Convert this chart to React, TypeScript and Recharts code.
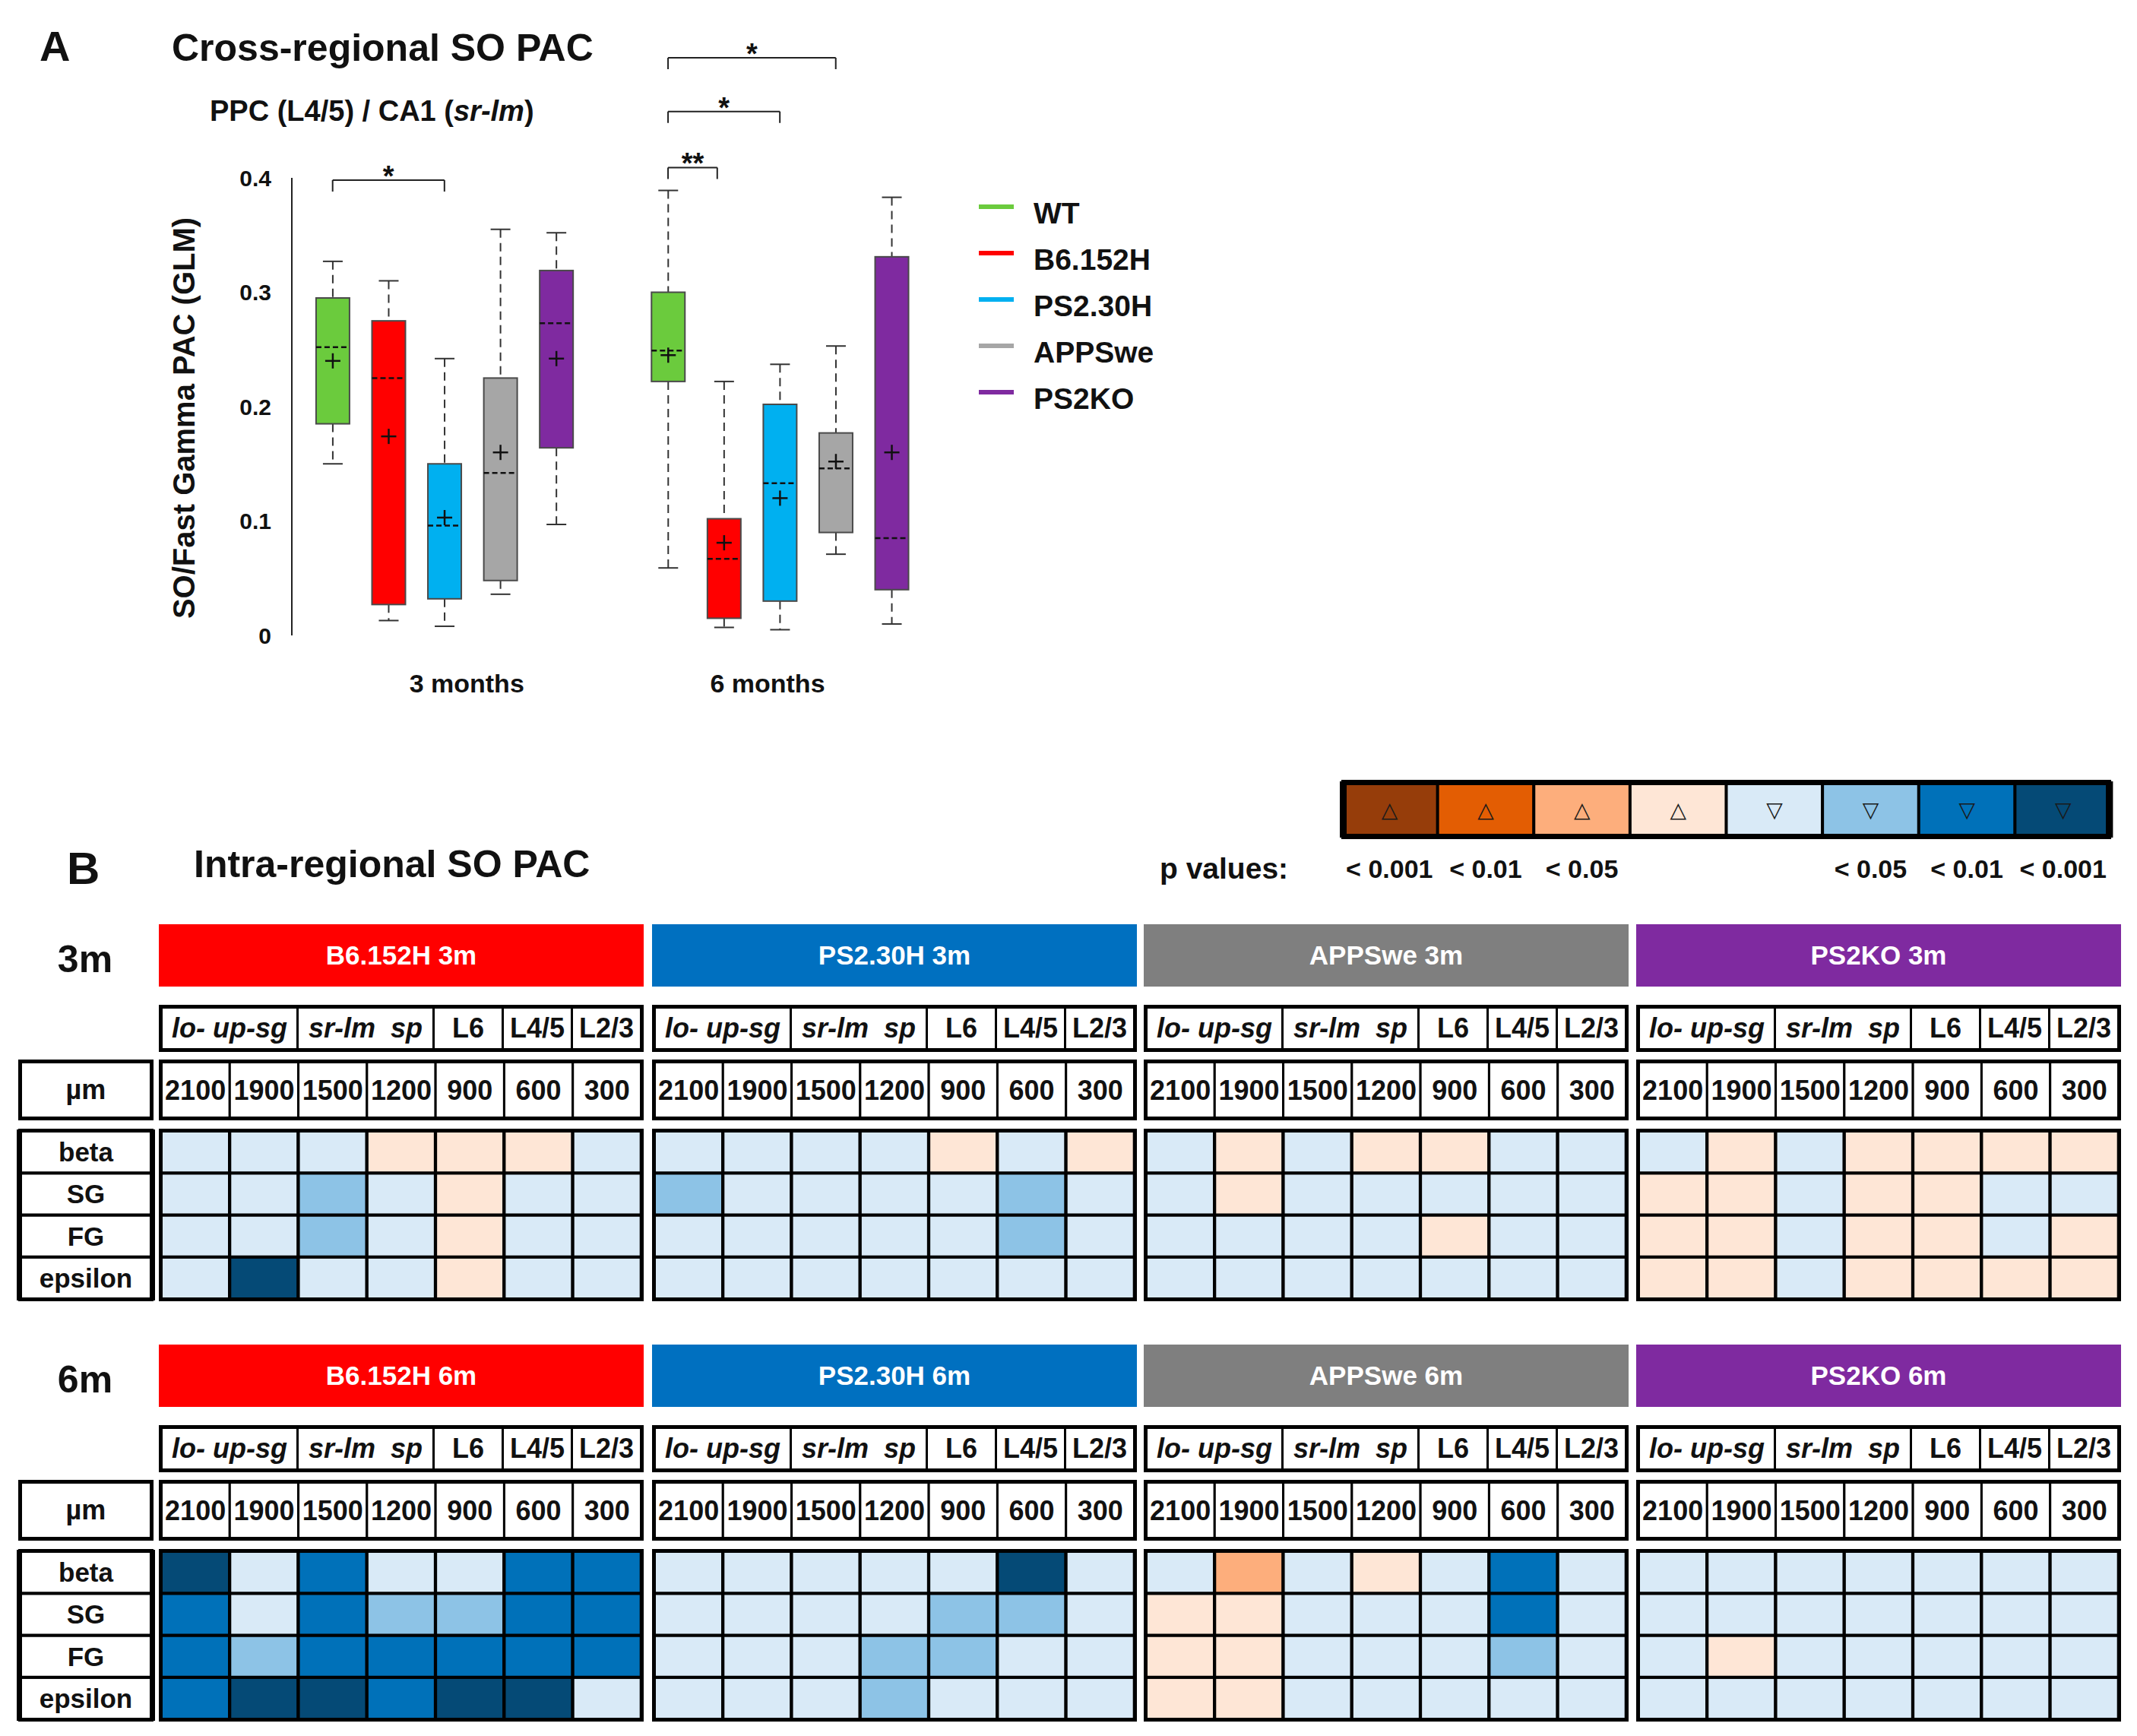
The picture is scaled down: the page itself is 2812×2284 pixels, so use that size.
import React from 'react'
import {
  ComposedChart,
  BarChart,
  Bar,
  Cell,
  XAxis,
  YAxis,
  ReferenceLine,
  ReferenceDot,
  Legend,
  LabelList,
} from 'recharts'

const FONT = '"Liberation Sans", Arial, Helvetica, sans-serif'
const INK = '#111'

// ---------- A: cross-regional SO / fast gamma PAC ----------
const GENOTYPES = ['WT', 'B6.152H', 'PS2.30H', 'APPSwe', 'PS2KO']
const GENO_COLORS = ['#6bcb3d', '#ff0000', '#00b0f0', '#a6a6a6', '#7f2aa0']
const AGE_NAMES = ['3 months', '6 months']
const AGE_TICKS = [3.4, 8.78]
const Y_TICKS = [0, 0.1, 0.2, 0.3, 0.4]

// x slot of each box: 1-5 = 3 months, 7-11 = 6 months
const BOX_SLOT = [1, 2, 3, 4, 5, 7, 8, 9, 10, 11]
const BOX_LO = [0.15, 0.013, 0.008, 0.036, 0.097, 0.059, 0.007, 0.005, 0.071, 0.01]
const BOX_Q1 = [0.185, 0.027, 0.032, 0.048, 0.164, 0.222, 0.015, 0.03, 0.09, 0.04]
const BOX_MED = [0.252, 0.225, 0.096, 0.142, 0.273, 0.249, 0.067, 0.133, 0.146, 0.085]
const BOX_MEAN = [0.24, 0.174, 0.103, 0.16, 0.242, 0.245, 0.081, 0.12, 0.152, 0.16]
const BOX_Q3 = [0.295, 0.275, 0.15, 0.225, 0.319, 0.3, 0.102, 0.202, 0.177, 0.331]
const BOX_HI = [0.327, 0.31, 0.242, 0.355, 0.352, 0.389, 0.222, 0.237, 0.253, 0.383]

// significance brackets
const SIG_FROM = [1, 7, 7, 7]
const SIG_TO = [3, 7.88, 9, 10]
const SIG_Y = [0.398, 0.409, 0.458, 0.505]
const SIG_TEXT = ['*', '**', '*', '*']

const boxRows = BOX_SLOT.map((slot, i) => ({
  slot,
  color: GENO_COLORS[i % GENOTYPES.length],
  lo: BOX_LO[i],
  q1: BOX_Q1[i],
  med: BOX_MED[i],
  mean: BOX_MEAN[i],
  q3: BOX_Q3[i],
  hi: BOX_HI[i],
}))

// ---------- B: intra-regional SO PAC ----------
const LINES = ['B6.152H', 'PS2.30H', 'APPSwe', 'PS2KO']
const LINE_COLORS = ['#ff0000', '#0070c0', '#7f7f7f', '#7f2aa0']
const AGES = ['3m', '6m']
const DEPTHS = ['2100', '1900', '1500', '1200', '900', '600', '300']
const LAYERS = ['lo- up-sg', 'sr-lm  sp', 'L6', 'L4/5', 'L2/3']
const LAYER_SPAN = [2, 2, 1, 1, 1]
const LAYER_ITALIC = [true, true, false, false, false]
const BANDS = ['beta', 'SG', 'FG', 'epsilon']

// +: increase, -: decrease; 1 = n.s., 2 = p<0.05, 3 = p<0.01, 4 = p<0.001
const SCALE_CODES = [4, 3, 2, 1, -1, -2, -3, -4]
const SCALE_COLORS = ['#963d0a', '#e35d03', '#fdae7c', '#fee6d6', '#d9eaf7', '#8dc3e6', '#0071b9', '#054a76']
const SCALE_LABELS = ['< 0.001', '< 0.01', '< 0.05', '', '', '< 0.05', '< 0.01', '< 0.001']

// rows: beta, SG, FG, epsilon / columns: 2100 ... 300 µm
const B6_3M = [
  [-1, -1, -1, 1, 1, 1, -1],
  [-1, -1, -2, -1, 1, -1, -1],
  [-1, -1, -2, -1, 1, -1, -1],
  [-1, -4, -1, -1, 1, -1, -1],
]
const PS2_3M = [
  [-1, -1, -1, -1, 1, -1, 1],
  [-2, -1, -1, -1, -1, -2, -1],
  [-1, -1, -1, -1, -1, -2, -1],
  [-1, -1, -1, -1, -1, -1, -1],
]
const APP_3M = [
  [-1, 1, -1, 1, 1, -1, -1],
  [-1, 1, -1, -1, -1, -1, -1],
  [-1, -1, -1, -1, 1, -1, -1],
  [-1, -1, -1, -1, -1, -1, -1],
]
const KO_3M = [
  [-1, 1, -1, 1, 1, 1, 1],
  [1, 1, -1, 1, 1, -1, -1],
  [1, 1, -1, 1, 1, -1, 1],
  [1, 1, -1, 1, 1, 1, 1],
]
const B6_6M = [
  [-4, -1, -3, -1, -1, -3, -3],
  [-3, -1, -3, -2, -2, -3, -3],
  [-3, -2, -3, -3, -3, -3, -3],
  [-3, -4, -4, -3, -4, -4, -1],
]
const PS2_6M = [
  [-1, -1, -1, -1, -1, -4, -1],
  [-1, -1, -1, -1, -2, -2, -1],
  [-1, -1, -1, -2, -2, -1, -1],
  [-1, -1, -1, -2, -1, -1, -1],
]
const APP_6M = [
  [-1, 2, -1, 1, -1, -3, -1],
  [1, 1, -1, -1, -1, -3, -1],
  [1, 1, -1, -1, -1, -2, -1],
  [1, 1, -1, -1, -1, -1, -1],
]
const KO_6M = [
  [-1, -1, -1, -1, -1, -1, -1],
  [-1, -1, -1, -1, -1, -1, -1],
  [-1, 1, -1, -1, -1, -1, -1],
  [-1, -1, -1, -1, -1, -1, -1],
]
const GRIDS = [
  [B6_3M, PS2_3M, APP_3M, KO_3M],
  [B6_6M, PS2_6M, APP_6M, KO_6M],
]

// layout
const GROUP_LEFT = [209, 858, 1505, 2153]
const GROUP_W = 638
const SECTION_TOP = [1216, 1769]
const CELL_W = (GROUP_W - 6) / DEPTHS.length
const ROW_H = 221 / BANDS.length

const heatColor = (code: number) => SCALE_COLORS[SCALE_CODES.indexOf(code)]

function BoxShape(props: any) {
  const { x, y, width, height, payload } = props
  if (!payload || !height) return null
  const top = Math.min(y, y + height)
  const h = Math.abs(height)
  const k = h / (payload.q3 - payload.q1)
  const py = (v: number) => top + (payload.q3 - v) * k
  const cx = x + width / 2
  const cap = 13
  const m = py(payload.mean)
  return (
    <g>
      <line x1={cx} x2={cx} y1={py(payload.hi)} y2={top} stroke="#333" strokeWidth={2} strokeDasharray="11 7" />
      <line x1={cx} x2={cx} y1={top + h} y2={py(payload.lo)} stroke="#333" strokeWidth={2} strokeDasharray="11 7" />
      <line x1={cx - cap} x2={cx + cap} y1={py(payload.hi)} y2={py(payload.hi)} stroke="#333" strokeWidth={2} />
      <line x1={cx - cap} x2={cx + cap} y1={py(payload.lo)} y2={py(payload.lo)} stroke="#333" strokeWidth={2} />
      <rect x={x} y={top} width={width} height={h} fill={payload.color} stroke="#4a4a4a" strokeWidth={2} />
      <line x1={x} x2={x + width} y1={py(payload.med)} y2={py(payload.med)} stroke="#111" strokeWidth={2.5} strokeDasharray="7 4" />
      <line x1={cx - 10} x2={cx + 10} y1={m} y2={m} stroke="#111" strokeWidth={2.5} />
      <line x1={cx} x2={cx} y1={m - 10} y2={m + 10} stroke="#111" strokeWidth={2.5} />
    </g>
  )
}

function GenotypeLegend() {
  return (
    <svg width={320} height={320} style={{ overflow: 'visible' }}>
      {GENOTYPES.map((g, i) => (
        <g key={g}>
          <line x1={0} x2={46} y1={22 + i * 61} y2={22 + i * 61} stroke={GENO_COLORS[i]} strokeWidth={6} />
          <text x={72} y={30 + i * 61} dominantBaseline="central" fontSize={39} fontWeight={700} fill={INK} fontFamily={FONT}>
            {g}
          </text>
        </g>
      ))}
    </svg>
  )
}

function YLabel(props: any) {
  const vb = props.viewBox
  const cx = vb.x - 58
  const cy = vb.y + vb.height / 2 + 15
  return (
    <text
      x={cx}
      y={cy}
      transform={`rotate(-90 ${cx} ${cy})`}
      textAnchor="middle"
      dominantBaseline="central"
      fontSize={40}
      fontWeight={700}
      fill={INK}
      fontFamily={FONT}
    >
      SO/Fast Gamma PAC (GLM)
    </text>
  )
}

function CrossRegionalChart() {
  return (
    <ComposedChart width={1600} height={960} data={boxRows} margin={{ top: 234, right: 373, bottom: 44, left: 300 }}>
      <XAxis
        type="number"
        dataKey="slot"
        domain={[0.27, 11.73]}
        allowDataOverflow
        ticks={AGE_TICKS}
        tickFormatter={(v) => AGE_NAMES[AGE_TICKS.indexOf(v)] ?? ''}
        axisLine={false}
        tickLine={false}
        tickSize={0}
        tickMargin={51}
        height={80}
        tick={{ fill: INK, fontSize: 34, fontWeight: 700, fontFamily: FONT }}
      />
      <YAxis
        type="number"
        domain={[0, 0.4]}
        ticks={Y_TICKS}
        tickFormatter={(v) => (v === 0 ? '0' : v.toFixed(1))}
        width={84}
        axisLine={{ stroke: '#222', strokeWidth: 2 }}
        tickLine={false}
        tickSize={0}
        tickMargin={27}
        tick={{ fill: INK, fontSize: 30, fontWeight: 700, fontFamily: FONT }}
        label={{ content: YLabel }}
      />
      <Bar dataKey={(d: any) => [d.q1, d.q3]} barSize={44} shape={BoxShape} isAnimationActive={false} />
      {SIG_TEXT.map((t, i) => [
        <ReferenceLine
          key={`h${i}`}
          segment={[{ x: SIG_FROM[i], y: SIG_Y[i] }, { x: SIG_TO[i], y: SIG_Y[i] }]}
          stroke="#222"
          strokeWidth={2}
          ifOverflow="visible"
        />,
        <ReferenceLine
          key={`l${i}`}
          segment={[{ x: SIG_FROM[i], y: SIG_Y[i] }, { x: SIG_FROM[i], y: SIG_Y[i] - 0.01 }]}
          stroke="#222"
          strokeWidth={2}
          ifOverflow="visible"
        />,
        <ReferenceLine
          key={`r${i}`}
          segment={[{ x: SIG_TO[i], y: SIG_Y[i] }, { x: SIG_TO[i], y: SIG_Y[i] - 0.01 }]}
          stroke="#222"
          strokeWidth={2}
          ifOverflow="visible"
        />,
        <ReferenceDot
          key={`t${i}`}
          x={(SIG_FROM[i] + SIG_TO[i]) / 2}
          y={SIG_Y[i]}
          r={0}
          ifOverflow="visible"
          shape={(p: any) => (
            <text x={p.cx} y={p.cy + 8} textAnchor="middle" fontSize={38} fontWeight={700} fill={INK} fontFamily={FONT}>
              {t}
            </text>
          )}
        />,
      ])}
      <Legend
        layout="vertical"
        align="center"
        verticalAlign="middle"
        content={() => <GenotypeLegend />}
        wrapperStyle={{ left: 1288, top: 250, width: 320, height: 320 }}
      />
    </ComposedChart>
  )
}

function DepthTick(p: any) {
  const { x, y, payload } = p
  return (
    <g>
      <rect x={x - CELL_W / 2} y={y - 92} width={CELL_W} height={76} fill="#fff" stroke="#000" strokeWidth={3} />
      <text x={x} y={y - 54} textAnchor="middle" dominantBaseline="central" fontSize={36} fontWeight={700} fill={INK} fontFamily={FONT}>
        {payload.value}
      </text>
    </g>
  )
}

function BandTick(p: any) {
  const { x, y, payload } = p
  const name = BANDS[BANDS.length - 1 - Math.floor(payload.value)]
  return (
    <g>
      <rect x={x - 188} y={y - ROW_H / 2} width={178} height={ROW_H} fill="#fff" stroke="#000" strokeWidth={4} />
      <text x={x - 99} y={y} textAnchor="middle" dominantBaseline="central" fontSize={35} fontWeight={700} fill={INK} fontFamily={FONT}>
        {name}
      </text>
    </g>
  )
}

const boxBorder = (left: number, top: number, width: number, height: number, bw: number): React.CSSProperties => ({
  position: 'absolute',
  left,
  top,
  width,
  height,
  border: `${bw}px solid #000`,
  boxSizing: 'border-box',
  pointerEvents: 'none',
})

function HeatBlock({ age, g }: { age: number; g: number }) {
  const grid = GRIDS[age][g]
  const left = GROUP_LEFT[g]
  const top = SECTION_TOP[age]
  const withLabels = g === 0
  const yw = withLabels ? 187 : 0
  const rows = DEPTHS.map((depth) => ({ depth, beta: 1, SG: 1, FG: 1, epsilon: 1 }))
  return (
    <>
      <div
        style={{
          position: 'absolute',
          left,
          top,
          width: GROUP_W,
          height: 82,
          background: LINE_COLORS[g],
          color: '#fff',
          display: 'flex',
          alignItems: 'center',
          justifyContent: 'center',
          fontSize: 35,
          fontWeight: 700,
        }}
      >
        {`${LINES[g]} ${AGES[age]}`}
      </div>
      <div style={{ ...boxBorder(left, top + 106, GROUP_W, 62, 5), display: 'flex', background: '#fff' }}>
        {LAYERS.map((name, i) => (
          <div
            key={name}
            style={{
              flex: LAYER_SPAN[i],
              borderLeft: i ? '3px solid #000' : 'none',
              display: 'flex',
              alignItems: 'center',
              justifyContent: 'center',
              fontSize: 36,
              fontWeight: 700,
              fontStyle: LAYER_ITALIC[i] ? 'italic' : 'normal',
              whiteSpace: 'pre',
              color: INK,
            }}
          >
            {name}
          </div>
        ))}
      </div>
      {withLabels && (
        <div
          style={{
            ...boxBorder(24, top + 178, 178, 80, 5),
            display: 'flex',
            alignItems: 'center',
            justifyContent: 'center',
            fontSize: 36,
            fontWeight: 700,
            color: INK,
          }}
        >
          µm
        </div>
      )}
      <div style={{ position: 'absolute', left: left - yw, top: top + 178 }}>
        <BarChart
          width={GROUP_W + yw}
          height={321}
          data={rows}
          margin={{ top: 0, right: 3, bottom: 6, left: 3 }}
          barCategoryGap={0}
          barGap={0}
        >
          <XAxis
            dataKey="depth"
            orientation="top"
            height={94}
            axisLine={false}
            tickLine={false}
            tickSize={0}
            tickMargin={0}
            interval={0}
            tick={(p: any) => <DepthTick {...p} />}
          />
          {withLabels ? (
            <YAxis
              type="number"
              domain={[0, 4]}
              ticks={[0.5, 1.5, 2.5, 3.5]}
              width={yw}
              axisLine={false}
              tickLine={false}
              tickSize={0}
              tickMargin={0}
              tick={(p: any) => <BandTick {...p} />}
            />
          ) : (
            <YAxis type="number" domain={[0, 4]} hide />
          )}
          {[3, 2, 1, 0].map((r) => (
            <Bar key={BANDS[r]} dataKey={BANDS[r]} stackId="h" stroke="#000" strokeWidth={4} isAnimationActive={false}>
              {grid[r].map((code, c) => (
                <Cell key={c} fill={heatColor(code)} />
              ))}
            </Bar>
          ))}
        </BarChart>
      </div>
      <div style={boxBorder(left, top + 178, GROUP_W, 80, 5)} />
      <div style={boxBorder(left, top + 269, GROUP_W, 227, 5)} />
      {withLabels && <div style={boxBorder(24, top + 269, 178, 227, 5)} />}
    </>
  )
}

function ScaleBar() {
  const rows = SCALE_CODES.map((code, i) => ({ key: String(i), cell: 1, sym: code > 0 ? '△' : '▽' }))
  return (
    <>
      <div style={{ position: 'absolute', left: 1762, top: 1027 }}>
        <BarChart width={1019} height={170} data={rows} margin={{ top: 3, right: 3, bottom: 0, left: 3 }} barCategoryGap={0}>
          <XAxis
            dataKey="key"
            interval={0}
            axisLine={false}
            tickLine={false}
            tickSize={0}
            tickMargin={31}
            height={97}
            tickFormatter={(_, i) => SCALE_LABELS[i]}
            tick={{ fill: INK, fontSize: 34, fontWeight: 700, fontFamily: FONT }}
          />
          <YAxis type="number" domain={[0, 1]} hide />
          <Bar dataKey="cell" stroke="#000" strokeWidth={4} isAnimationActive={false}>
            {SCALE_COLORS.map((c) => (
              <Cell key={c} fill={c} />
            ))}
            <LabelList dataKey="sym" position="center" fill="#1a1a1a" fontSize={28} fontFamily='"DejaVu Sans", sans-serif' />
          </Bar>
        </BarChart>
      </div>
      <div style={boxBorder(1765, 1026, 1013, 78, 7)} />
    </>
  )
}

export default function App() {
  const txt = { fontFamily: FONT, fontWeight: 700, fill: INK } as const
  return (
    <div
      style={{
        position: 'absolute',
        left: 0,
        top: 0,
        width: 2812,
        height: 2284,
        background: '#fff',
        fontFamily: FONT,
        overflow: 'hidden',
      }}
    >
      <svg width={2812} height={2284} style={{ position: 'absolute', left: 0, top: 0 }}>
        <text x={52} y={80} fontSize={56} {...txt}>A</text>
        <text x={226} y={80} fontSize={50} {...txt}>Cross-regional SO PAC</text>
        <text x={276} y={159} fontSize={38} {...txt}>
          PPC (L4/5) / CA1 (<tspan fontStyle="italic">sr-lm</tspan>)
        </text>
        <text x={88} y={1163} fontSize={60} {...txt}>B</text>
        <text x={255} y={1154} fontSize={50} {...txt}>Intra-regional SO PAC</text>
        <text x={1526} y={1156} fontSize={39} {...txt}>p values:</text>
        {AGES.map((a, i) => (
          <text key={a} x={112} y={SECTION_TOP[i] + 63} textAnchor="middle" fontSize={50} {...txt}>
            {a}
          </text>
        ))}
      </svg>
      <div style={{ position: 'absolute', left: 0, top: 0 }}>
        <CrossRegionalChart />
      </div>
      <ScaleBar />
      {AGES.map((_, age) => LINES.map((__, g) => <HeatBlock key={`${age}-${g}`} age={age} g={g} />))}
    </div>
  )
}
